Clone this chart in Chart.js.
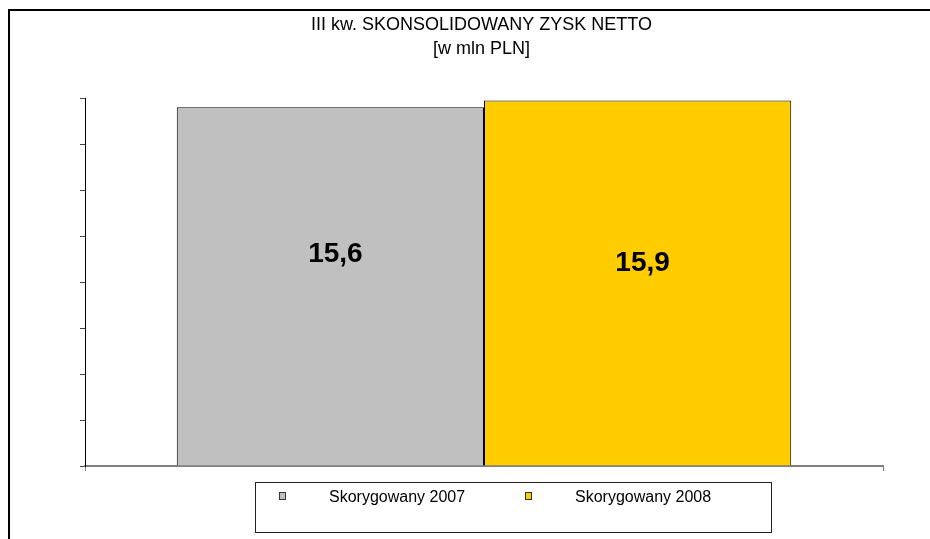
<!DOCTYPE html>
<html lang="pl">
<head>
    <meta charset="UTF-8">
    <title>III kw. SKONSOLIDOWANY ZYSK NETTO</title>
    <script src="https://cdn.jsdelivr.net/npm/chart.js"></script>
    <style>
        html, body { margin: 0; padding: 0; background: #fff; }
        .wrap { position: relative; width: 930px; height: 539px; }
        #legend {
            position: absolute; left: 255px; top: 482px; width: 517px; height: 51px;
            box-sizing: border-box; border: 1px solid #222;
            display: flex; padding: 4px 0 0 23px;
            font: 16px "Liberation Sans", Arial, sans-serif; color: #000;
        }
        #legend .item { display: flex; align-items: flex-start; width: 247px; line-height: 20px; }
        #legend .box { width: 5px; height: 6px; margin-top: 5px; margin-right: 43px; border: 1px solid #333; }
    </style>
</head>
<body>
<div class="wrap">
    <canvas id="zyskChart" width="930" height="539"></canvas>
    <div id="legend"></div>
</div>

<script>
    const titleLines = ['III kw. SKONSOLIDOWANY ZYSK NETTO', '[w mln PLN]'];
    const seriesNames = ['Skorygowany 2007', 'Skorygowany 2008'];
    const seriesValues = [15.6, 15.9];
    const seriesColors = ['#C0C0C0', '#FFCC00'];

    // ramka wykresu (tylko lewa i górna krawędź widoczna)
    const framePlugin = {
        id: 'frame',
        beforeDraw(chart) {
            const ctx = chart.ctx;
            ctx.save();
            ctx.strokeStyle = '#000';
            ctx.lineWidth = 2;
            ctx.beginPath();
            ctx.moveTo(9, 539);
            ctx.lineTo(9, 10);
            ctx.lineTo(930, 10);
            ctx.stroke();
            ctx.restore();
        }
    };

    // etykiety wartości na słupkach
    const valueLabels = {
        id: 'valueLabels',
        afterDatasetsDraw(chart, args, opts) {
            const ctx = chart.ctx;
            ctx.save();
            ctx.font = 'bold 28px "Liberation Sans", Arial, sans-serif';
            ctx.fillStyle = '#000';
            ctx.textAlign = 'center';
            ctx.textBaseline = 'middle';
            chart.data.datasets.forEach((ds, i) => {
                const bar = chart.getDatasetMeta(i).data[0];
                const y = bar.y + (bar.base - bar.y) * opts.pos[i];
                ctx.fillText(String(ds.data[0]).replace('.', ','), bar.x + 5, y);
            });
            ctx.restore();
        }
    };

    const chart = new Chart(document.getElementById('zyskChart'), {
        type: 'bar',
        data: {
            labels: [''],
            datasets: seriesNames.map((name, i) => ({
                label: name,
                data: [seriesValues[i]],
                backgroundColor: seriesColors[i],
                borderColor: '#000',
                borderWidth: 1,
                categoryPercentage: 0.77,
                barPercentage: 1
            }))
        },
        options: {
            responsive: false,
            animation: false,
            layout: { padding: { left: 80, right: 47, top: 0, bottom: 68 } },
            plugins: {
                legend: { display: false },
                tooltip: { enabled: false },
                title: {
                    display: true,
                    text: titleLines,
                    color: '#000',
                    font: { family: '"Liberation Sans", Arial, sans-serif', size: 18, weight: 'normal', lineHeight: 1.28 },
                    padding: { top: 14, bottom: 38 }
                },
                valueLabels: { pos: [0.41, 0.445] }
            },
            scales: {
                x: {
                    ticks: { display: false },
                    grid: { drawOnChartArea: false, tickLength: 5, color: '#808080' },
                    border: { color: '#808080', width: 2 }
                },
                y: {
                    min: 0,
                    max: 16,
                    ticks: { display: false, stepSize: 2 },
                    grid: { drawOnChartArea: false, tickLength: 5, color: '#444' },
                    border: { color: '#000', width: 1 }
                }
            }
        },
        plugins: [framePlugin, valueLabels]
    });

    // legenda w ramce pod wykresem
    const legendEl = document.getElementById('legend');
    chart.data.datasets.forEach(ds => {
        const item = document.createElement('div');
        item.className = 'item';
        const box = document.createElement('span');
        box.className = 'box';
        box.style.background = ds.backgroundColor;
        const txt = document.createElement('span');
        txt.textContent = ds.label;
        item.appendChild(box);
        item.appendChild(txt);
        legendEl.appendChild(item);
    });
</script>
</body>
</html>
